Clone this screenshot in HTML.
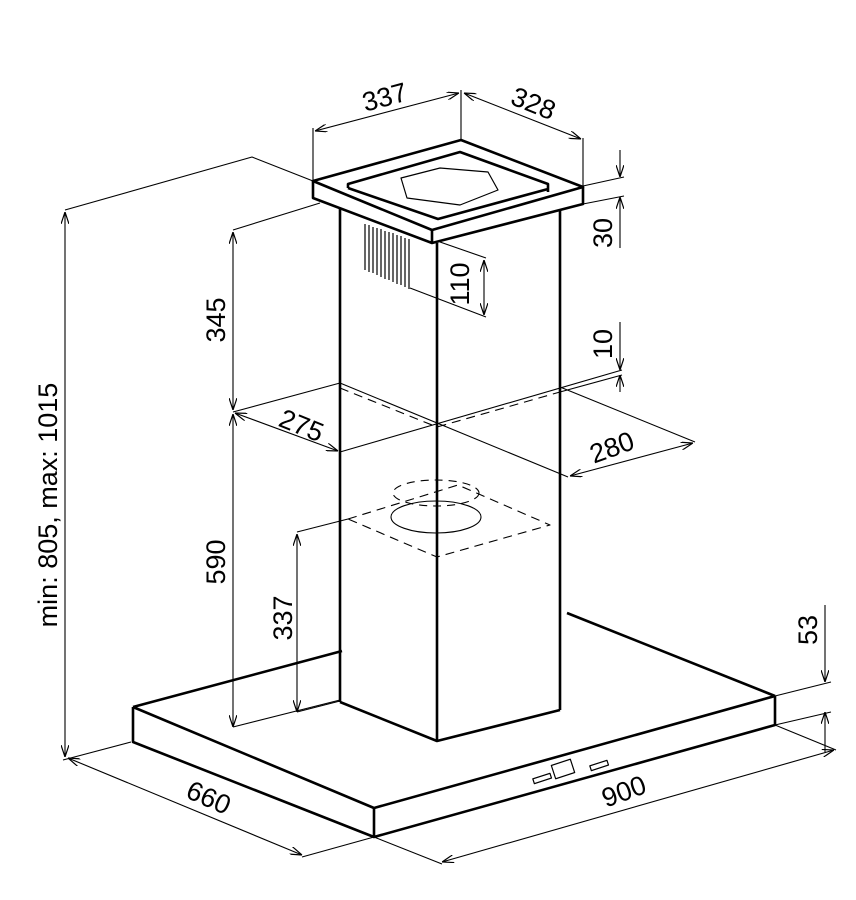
<!DOCTYPE html><html><head><style>body{margin:0;background:#fff}svg{display:block}text{font-family:"Liberation Sans",sans-serif;font-size:27px;fill:#000}</style></head><body>
<svg width="856" height="900" viewBox="0 0 856 900" xmlns="http://www.w3.org/2000/svg">
<defs><marker id="a" viewBox="0 0 12 8" refX="12" refY="4" markerWidth="12" markerHeight="8" orient="auto-start-reverse" markerUnits="userSpaceOnUse"><path d="M0,0L12,4L0,8" fill="none" stroke="#000" stroke-width="1.2"/></marker></defs>
<g fill="none" stroke="#000" stroke-linejoin="round">
<g stroke-width="2.6">
<path d="M313,181L461,140L583,187L432,230Z"/>
<path d="M313,181L313,198L432,243L583,204L583,187M432,230L432,243"/>
<path d="M348,188L348,184L460,152L548,184L548,192M348,188L438,219L548,189"/>
<path d="M340,208L340,702M437,243L437,741M560,210L560,710"/>
<path d="M340,702L437,741L560,710"/>
<path d="M133,707L374,808L775,696M133,707L342,651M567,613L775,696"/>
<path d="M133,707L133,742L374,837L775,725L775,696M374,808L374,837"/>
</g>
<path stroke-width="1.2" d="M401,178L440,168L488,172L498,190L460,205L407,198Z"/>
<path stroke-width="1.2" d="M365,224V270M369,225V272M373,227V273M377,228V275M381,229V277M385,231V279M389,232V280M393,233V282M397,235V284M401,236V285M405,238V287M409,239V289"/>
<rect x="533" y="776" width="18" height="5" transform="rotate(-18 542 778)" stroke-width="1.2"/>
<rect x="553" y="762" width="20" height="14" transform="rotate(-18 563 769)" stroke-width="1.2"/>
<rect x="590" y="763" width="18" height="5" transform="rotate(-18 599 765)" stroke-width="1.2"/>
<g stroke-width="1.1">
<path d="M313,181V128M461,140V90M583,187V138"/>
<path d="M315,131L459,93" marker-start="url(#a)" marker-end="url(#a)"/>
<path d="M464,93L581,139" marker-start="url(#a)" marker-end="url(#a)"/>
<path d="M65,210L252,157L313,181"/>
<path d="M65,212V757" marker-start="url(#a)" marker-end="url(#a)"/>
<path d="M583,186L624,177M583,204L624,196"/>
<path d="M620,150V177" marker-end="url(#a)"/><path d="M620,248V197" marker-end="url(#a)"/>
<path d="M440,242L486,258M410,288L486,317"/>
<path d="M484,260V315" marker-start="url(#a)" marker-end="url(#a)"/>
<path d="M233,230L320,203"/>
<path d="M233,232V410" marker-start="url(#a)" marker-end="url(#a)"/>
<path d="M233,414V727" marker-start="url(#a)" marker-end="url(#a)"/>
<path d="M233,727L340,700"/>
<path d="M340,383L233,412"/>
<path d="M235,413L338,451" marker-start="url(#a)" marker-end="url(#a)"/>
<path d="M340,452L622,370M340,383L568,477M560,387L695,442"/>
<path d="M560,392L622,375"/>
<path d="M570,476L693,443" marker-start="url(#a)" marker-end="url(#a)"/>
<path d="M620,322V370" marker-end="url(#a)"/><path d="M620,392V375" marker-end="url(#a)"/>
<path stroke-dasharray="9,6" d="M340,388L437,427L560,392"/>
<path d="M297,532L348,519"/>
<path stroke-dasharray="9,6" d="M348,519L458,485L550,525L437,557Z"/>
<ellipse cx="436" cy="517" rx="45" ry="16"/>
<ellipse cx="436" cy="493" rx="43" ry="13" stroke-dasharray="8,6"/>
<path d="M297,534V712" marker-start="url(#a)" marker-end="url(#a)"/>
<path d="M297,712L340,701"/>
<path d="M131,742L63,760M374,837L302,857M374,837L442,864M775,725L836,750"/>
<path d="M68,758L302,855" marker-start="url(#a)" marker-end="url(#a)"/>
<path d="M442,862L834,750" marker-start="url(#a)" marker-end="url(#a)"/>
<path d="M775,696L831,682M775,725L831,712"/>
<path d="M825,605V682" marker-end="url(#a)"/><path d="M825,752V712" marker-end="url(#a)"/>
</g></g>
<text transform="translate(387,106) rotate(-15)" text-anchor="middle">337</text>
<text transform="translate(530,112) rotate(22)" text-anchor="middle">328</text>
<text transform="translate(612,233) rotate(-90)" text-anchor="middle">30</text>
<text transform="translate(469,284) rotate(-90)" text-anchor="middle">110</text>
<text transform="translate(612,344) rotate(-90)" text-anchor="middle">10</text>
<text transform="translate(225,320) rotate(-90)" text-anchor="middle">345</text>
<text transform="translate(225,562) rotate(-90)" text-anchor="middle">590</text>
<text transform="translate(292,618) rotate(-90)" text-anchor="middle">337</text>
<text transform="translate(57,505) rotate(-90)" text-anchor="middle">min: 805, max: 1015</text>
<text transform="translate(298,434) rotate(22)" text-anchor="middle">275</text>
<text transform="translate(615,456) rotate(-20)" text-anchor="middle">280</text>
<text transform="translate(205,806) rotate(24)" text-anchor="middle">660</text>
<text transform="translate(627,800) rotate(-20)" text-anchor="middle">900</text>
<text transform="translate(817,630) rotate(-90)" text-anchor="middle">53</text>
</svg></body></html>
